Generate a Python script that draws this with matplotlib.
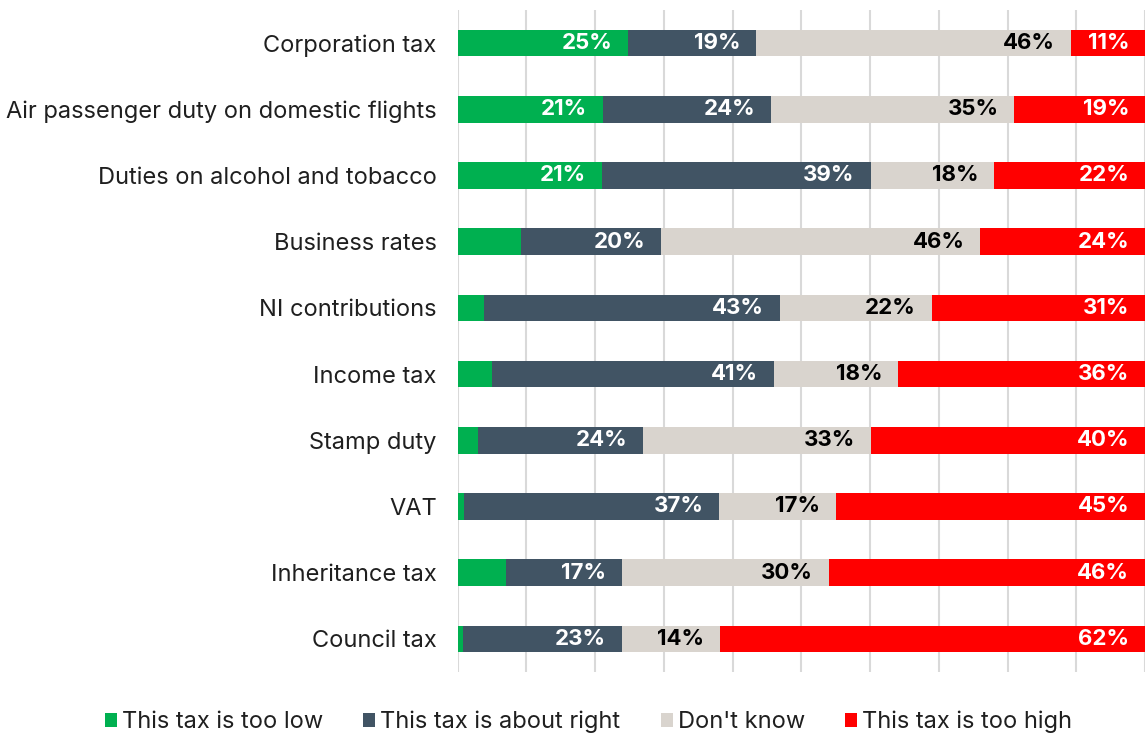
import numpy as np
import matplotlib.pyplot as plt
from matplotlib.patches import Patch

plt.rcParams['font.family'] = ['Inter', 'DejaVu Sans']

# Opinion on each tax (percent of respondents), top to bottom
impuestos = ["Corporation tax", "Air passenger duty on domestic flights",
             "Duties on alcohol and tobacco", "Business rates", "NI contributions",
             "Income tax", "Stamp duty", "VAT", "Inheritance tax", "Council tax"]
muy_bajo = [24.85, 21.2, 21.0, 9.2, 3.9, 5.0, 3.0, 0.9, 7.0, 0.85]
adecuado = [18.6, 24.4, 39.1, 20.45, 43.0, 41.0, 24.0, 37.2, 16.9, 23.1]
no_sabe = [45.8, 35.4, 18.0, 46.4, 22.1, 18.1, 33.1, 17.0, 30.1, 14.2]
muy_alto = [10.75, 19.0, 21.9, 23.95, 31.0, 35.9, 39.9, 44.9, 46.0, 61.85]

series = ["This tax is too low", "This tax is about right", "Don't know", "This tax is too high"]
colores = ["#00B050", "#415464", "#D9D4CE", "#FF0000"]
color_texto = ["white", "white", "black", "white"]

fig = plt.figure(figsize=(11.45, 7.37), dpi=100)
ax = fig.add_axes([457.5 / 1145, 1 - 672 / 737, 1 - 457.5 / 1145, (672 - 10) / 737])

y = np.arange(len(impuestos))
izquierda = np.zeros(len(impuestos))
for datos, color, ctexto in zip([muy_bajo, adecuado, no_sabe, muy_alto], colores, color_texto):
    datos = np.array(datos, dtype=float)
    ax.barh(y, datos, left=izquierda, height=0.4, color=color, zorder=3)
    for yi, (l, v) in enumerate(zip(izquierda, datos)):
        # las porciones chicas van sin etiqueta
        if v >= 10:
            fin = min(l + v, 100)
            ax.annotate(f"{v:.0f}%", xy=(fin, yi), xytext=(-11.5, 0),
                        textcoords="offset points", ha="right", va="center",
                        color=ctexto, fontsize=16, fontweight="bold", zorder=4)
    izquierda += datos

ax.set_xlim(0, 100)
ax.set_ylim(len(impuestos) - 0.5, -0.5)
ax.set_xticks(np.arange(0, 101, 10))
ax.xaxis.grid(True, color="#D9D9D9", linewidth=1.5, zorder=0)
ax.tick_params(axis="x", length=0, labelbottom=False)
ax.tick_params(axis="y", length=0, pad=15, labelsize=17, labelcolor="#1F1F1F")
ax.set_yticks(y)
ax.set_yticklabels(impuestos)
for s in ax.spines.values():
    s.set_visible(False)

manijas = [Patch(facecolor=c, edgecolor="none") for c in colores]
fig.legend(manijas, series, loc="center", bbox_to_anchor=(0.514, 1 - 722 / 737), ncol=4,
           frameon=False, fontsize=17, handlelength=0.51, handleheight=0.51,
           handletextpad=0.21, columnspacing=1.7, labelcolor="#1F1F1F")

fig.savefig("out.png", dpi=100)
